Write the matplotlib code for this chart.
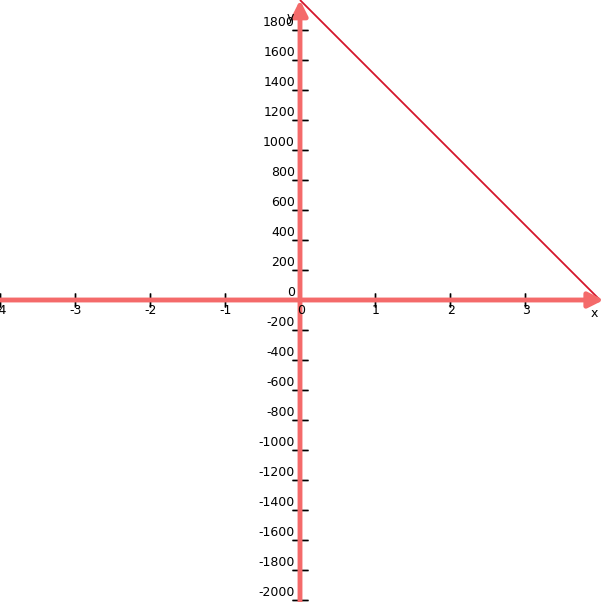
import matplotlib
matplotlib.use("Agg")
import matplotlib.pyplot as plt
from matplotlib.transforms import offset_copy

# function graph: straight line through (0, 2000) and (4, 0)
line_x = [0, 4]
line_y = [2000, 0]

x_ticks = [-4, -3, -2, -1, 0, 1, 2, 3]
y_ticks = list(range(-2000, 2000, 200))

AXIS_COLOR = "#f46a6a"
LINE_COLOR = "#d4152b"

fig = plt.figure(figsize=(6.08, 6.02), dpi=100)
ax = fig.add_axes([0, 0, 1, 1])
ax.set_xlim(-4, 608 / 75 - 4)
ax.set_ylim(-302 / 0.15, 2000)
ax.axis("off")

# axes as thick arrows
ax.annotate("", xy=(4.05, 0), xytext=(-4.2, 0),
            arrowprops=dict(arrowstyle="-|>,head_length=0.9,head_width=0.45",
                            color=AXIS_COLOR, lw=3.5, shrinkA=0, shrinkB=0))
ax.annotate("", xy=(0, 2000), xytext=(0, -2100),
            arrowprops=dict(arrowstyle="-|>,head_length=0.9,head_width=0.45",
                            color=AXIS_COLOR, lw=3.5, shrinkA=0, shrinkB=0))

ax.plot(line_x, line_y, color=LINE_COLOR, lw=1.3, solid_capstyle="butt")

fs = 9
# x ticks and labels
for xv in x_ticks:
    ax.plot([xv, xv], [0, 0], marker="|", markersize=10, color="black", mew=1)
    t = offset_copy(ax.transData, fig=fig, x=1, y=-4, units="dots")
    ax.text(xv, 0, str(xv), transform=t, ha="center", va="top", fontsize=fs)

# y ticks and labels
for yv in y_ticks:
    ax.plot([0, 0], [yv, yv], marker="_", markersize=11, color="black", mew=1)
    t = offset_copy(ax.transData, fig=fig, x=-5, y=7, units="dots")
    ax.text(0, yv, str(yv), transform=t, ha="right", va="center", fontsize=fs)

ax.text(-0.13, 1880, "y", fontsize=fs, ha="center", va="center")
ax.text(3.92, -90, "x", fontsize=fs, ha="center", va="center")

fig.savefig("out.png", dpi=100)
